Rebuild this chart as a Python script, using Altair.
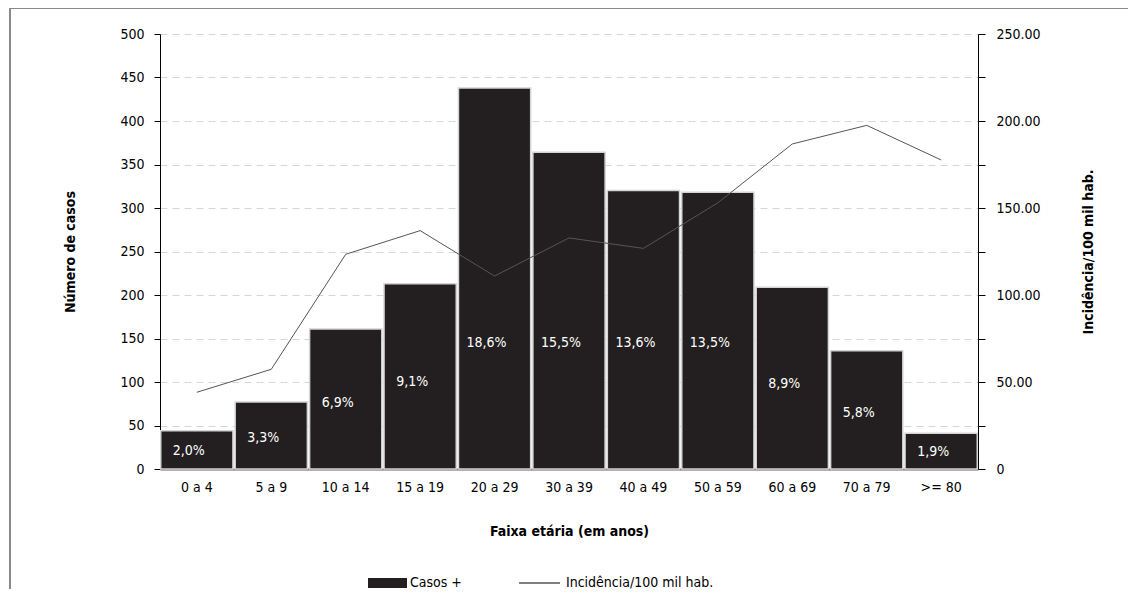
import altair as alt
import pandas as pd

faixas = ["0 a 4", "5 a 9", "10 a 14", "15 a 19", "20 a 29", "30 a 39",
          "40 a 49", "50 a 59", "60 a 69", "70 a 79", ">= 80"]
casos = [44, 77, 161, 213, 438, 364, 320, 318, 209, 136, 41]
percentuais = ["2,0%", "3,3%", "6,9%", "9,1%", "18,6%", "15,5%",
               "13,6%", "13,5%", "8,9%", "5,8%", "1,9%"]
incidencia = [44.1, 57.3, 123.4, 137.0, 110.9, 132.8, 126.8, 153.0, 186.8, 197.5, 177.6]
legenda = ["Casos +", "Incidência/100 mil hab."]

FONT = "Liberation Sans Narrow, DejaVu Sans Condensed, sans-serif"
W, H = 818, 435

df = pd.DataFrame({"faixa": faixas, "casos": casos, "pct": percentuais, "inc": incidencia})

xenc = alt.X("faixa:N", sort=faixas,
             scale=alt.Scale(paddingInner=0.03, paddingOuter=0.01),
             axis=alt.Axis(title="Faixa etária (em anos)", labelAngle=0, ticks=False,
                           labelPadding=11, domainColor="#666", domainWidth=2,
                           titleY=62, titleBaseline="middle"))

base = alt.Chart(df).encode(x=xenc)

bars = base.mark_bar(color="#231f20", stroke="#d4d4d4", strokeWidth=1.5).encode(
    y=alt.Y("casos:Q", scale=alt.Scale(domain=[0, 500], nice=False),
            axis=alt.Axis(title="Número de casos", values=list(range(0, 501, 50)),
                          grid=True, gridDash=[7, 5], gridColor="#d6d6d6",
                          domainColor="#000", tickColor="#000", tickSize=6,
                          labelPadding=10,
                          titleAngle=270, titleX=-90, titleY=H / 2,
                          titleBaseline="middle", titleAlign="center"))
)

labels = base.transform_calculate(ypos="min(datum.casos * 0.47, 145)").mark_text(
    color="white", dx=-8, font=FONT, fontSize=14, baseline="middle"
).encode(y=alt.Y("ypos:Q"), text="pct:N")

line = base.mark_line(color="#555", strokeWidth=1).encode(
    y=alt.Y("inc:Q", scale=alt.Scale(domain=[0, 250], nice=False),
            axis=alt.Axis(orient="right", title="Incidência/100 mil hab.",
                          values=list(range(0, 251, 25)),
                          labelExpr="datum.value % 50 == 0 ? (datum.value == 0 ? '0' : format(datum.value, '.2f')) : ''",
                          grid=False, domainColor="#000", tickColor="#000", tickSize=7,
                          labelPadding=11,
                          titleAngle=270, titleX=110, titleY=H / 2,
                          titleBaseline="middle", titleAlign="center"))
)

one = pd.DataFrame({"k": [0]})
frame_left = alt.Chart(one).mark_rule(color="#8a8a8a", strokeWidth=2).encode(
    x=alt.value(-150), y=alt.value(-26), y2=alt.value(600))
frame_top = alt.Chart(one).mark_rule(color="#8a8a8a", strokeWidth=2).encode(
    x=alt.value(-150), x2=alt.value(1000), y=alt.value(-26))
leg_rect = alt.Chart(one).mark_rect(color="#231f20").encode(
    x=alt.value(208), x2=alt.value(247), y=alt.value(544), y2=alt.value(554))
leg_text1 = alt.Chart(one).mark_text(align="left", baseline="middle", font=FONT, fontSize=14).encode(
    x=alt.value(250), y=alt.value(549), text=alt.value(legenda[0]))
leg_line = alt.Chart(one).mark_rule(color="#555", strokeWidth=1.5).encode(
    x=alt.value(359), x2=alt.value(400), y=alt.value(549))
leg_text2 = alt.Chart(one).mark_text(align="left", baseline="middle", font=FONT, fontSize=14).encode(
    x=alt.value(406), y=alt.value(549), text=alt.value(legenda[1]))

left = alt.layer(bars, labels)
chart = alt.layer(left, line, frame_left, frame_top, leg_rect, leg_text1, leg_line, leg_text2).resolve_scale(
    y="independent"
).properties(
    width=W, height=H,
    autosize=alt.AutoSizeParams(type="none"),
    padding={"left": 152, "top": 26, "right": 150, "bottom": 120},
).configure_view(stroke=None).configure_axis(
    labelFont=FONT, titleFont=FONT, labelFontSize=14, titleFontSize=14,
    labelColor="#000", titleColor="#000", titleFontWeight="bold"
)

chart.save("out.html", embed_options={"renderer": "svg", "actions": False})
